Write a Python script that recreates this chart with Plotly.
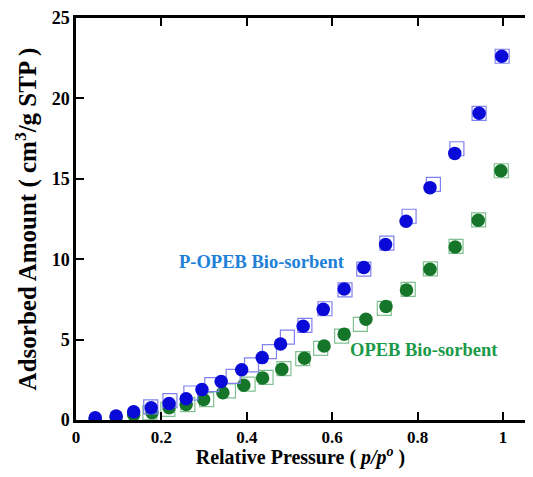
import plotly.graph_objects as go

# P-OPEB Bio-sorbent (blue)
p_ads_x = [0.045, 0.094, 0.135, 0.176, 0.218, 0.258, 0.295, 0.340, 0.388, 0.436, 0.479,
           0.532, 0.579, 0.628, 0.674, 0.725, 0.773, 0.829, 0.887, 0.944, 0.997]
p_ads_y = [0.14, 0.25, 0.51, 0.76, 1.03, 1.32, 1.89, 2.40, 3.12, 3.88, 4.72,
           5.83, 6.88, 8.15, 9.48, 10.92, 12.36, 14.45, 16.58, 19.07, 22.62]
p_des_x = [0.175, 0.220, 0.269, 0.318, 0.368, 0.411, 0.453, 0.495, 0.536, 0.583, 0.630,
           0.674, 0.728, 0.780, 0.837, 0.892, 0.944, 0.998]
p_des_y = [0.82, 1.20, 1.68, 2.20, 2.71, 3.43, 4.25, 5.15, 5.89, 6.92, 8.09,
           9.38, 11.00, 12.67, 14.65, 16.87, 19.07, 22.62]

# OPEB Bio-sorbent (green)
o_ads_x = [0.045, 0.094, 0.135, 0.178, 0.218, 0.258, 0.299, 0.344, 0.393, 0.437, 0.482,
           0.535, 0.581, 0.628, 0.679, 0.726, 0.774, 0.829, 0.888, 0.942, 0.995]
o_ads_y = [0.08, 0.18, 0.32, 0.45, 0.76, 0.96, 1.27, 1.70, 2.16, 2.61, 3.16,
           3.84, 4.60, 5.34, 6.26, 7.06, 8.09, 9.38, 10.76, 12.42, 15.50]
o_des_x = [0.173, 0.215, 0.262, 0.306, 0.357, 0.403, 0.445, 0.487, 0.531, 0.573, 0.622,
           0.666, 0.722, 0.778, 0.830, 0.890, 0.943, 0.996]
o_des_y = [0.45, 0.66, 0.96, 1.27, 1.81, 2.23, 2.65, 3.20, 3.82, 4.45, 5.22,
           5.95, 6.94, 8.12, 9.40, 10.80, 12.45, 15.50]

x_ticks = [0, 0.2, 0.4, 0.6, 0.8, 1]
x_tick_text = ["<b>0</b>", "<b>0.2</b>", "<b>0.4</b>", "<b>0.6</b>", "<b>0.8</b>", "<b>1</b>"]
y_ticks = [0, 5, 10, 15, 20, 25]
y_tick_text = ["<b>0</b>", "<b>5</b>", "<b>10</b>", "<b>15</b>", "<b>20</b>", "<b>25</b>"]

BLUE = "#0a0ad8"
BLUE_SQ = "#8080f0"
GREEN = "#15762a"
GREEN_SQ = "#80c090"
FONT = "Liberation Serif"

fig = go.Figure()
fig.add_trace(go.Scatter(x=o_des_x, y=o_des_y, mode="markers",
                         marker=dict(symbol="square-open", size=14, color=GREEN_SQ,
                                     line=dict(width=1.2, color=GREEN_SQ))))
fig.add_trace(go.Scatter(x=o_ads_x, y=o_ads_y, mode="markers",
                         marker=dict(symbol="circle", size=13.5, color=GREEN, line=dict(width=0))))
fig.add_trace(go.Scatter(x=p_des_x, y=p_des_y, mode="markers",
                         marker=dict(symbol="square-open", size=14, color=BLUE_SQ,
                                     line=dict(width=1.2, color=BLUE_SQ))))
fig.add_trace(go.Scatter(x=p_ads_x, y=p_ads_y, mode="markers",
                         marker=dict(symbol="circle", size=13.5, color=BLUE, line=dict(width=0))))

fig.add_annotation(x=0.436, y=9.8, xref="x", yref="y", text="<b>P-OPEB Bio-sorbent</b>",
                   showarrow=False, font=dict(family=FONT, size=18.5, color="#2080d8"))
fig.add_annotation(x=0.814, y=4.37, xref="x", yref="y", text="<b>OPEB Bio-sorbent</b>",
                   showarrow=False, font=dict(family=FONT, size=18.5, color="#1a9a48"))

# the page body has an 8px default margin; keep the figure inside it
fig.update_layout(
    width=517, height=461,
    margin=dict(l=68, r=0, t=10, b=49),
    paper_bgcolor="white", plot_bgcolor="white",
    showlegend=False,
    font=dict(family=FONT, color="black"),
    xaxis=dict(range=[0, 1.0515], tickvals=x_ticks, ticktext=x_tick_text,
               ticks="inside", ticklen=8, tickwidth=2, tickcolor="black",
               showline=True, linewidth=2.5, linecolor="black", mirror="ticks",
               showgrid=False, zeroline=False, automargin=False,
               tickfont=dict(family=FONT, size=17, color="black"),
               title=dict(text="<b>Relative Pressure ( <i>p/p<sup>o</sup></i> )</b>",
                          font=dict(family=FONT, size=20, color="black"), standoff=9)),
    yaxis=dict(range=[0, 25], tickvals=y_ticks, ticktext=y_tick_text,
               ticks="inside", ticklen=8, tickwidth=2, tickcolor="black",
               showline=True, linewidth=2.5, linecolor="black",
               showgrid=False, zeroline=False, automargin=False,
               tickfont=dict(family=FONT, size=18, color="black"),
               title=dict(text="<b>Adsorbed Amount ( cm<sup>3</sup>/g STP )</b>",
                          font=dict(family=FONT, size=25, color="black"), standoff=8)),
)

fig.write_html("out.html")
